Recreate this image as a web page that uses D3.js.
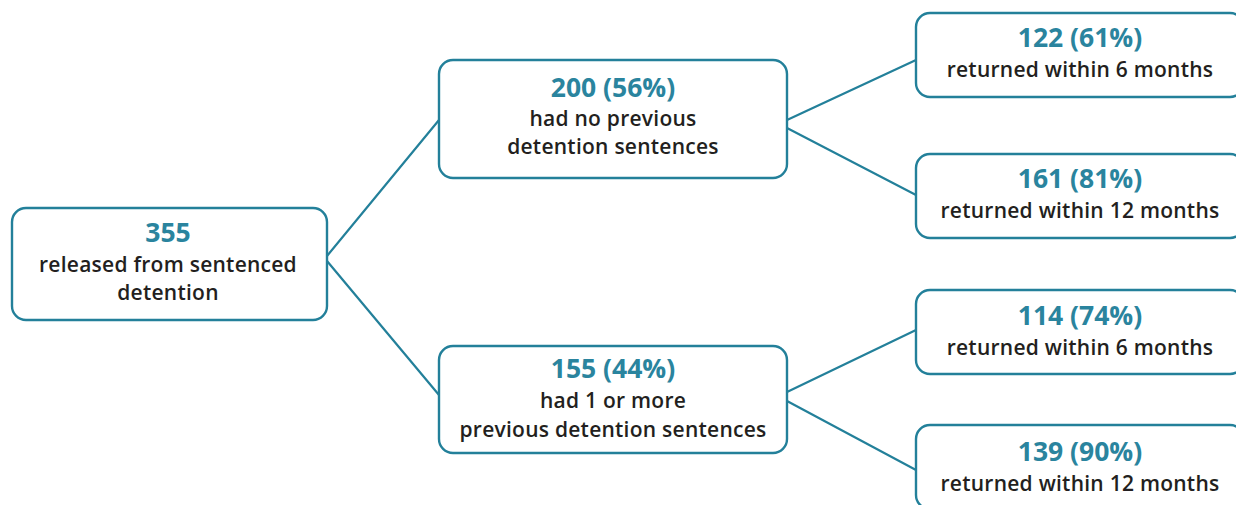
<!DOCTYPE html>
<html>
<head>
<meta charset="utf-8">
<script src="https://cdn.jsdelivr.net/npm/d3@7"></script>
<style>
  html, body { margin: 0; padding: 0; background: #ffffff; }
  svg { display: block; }
</style>
</head>
<body>
<svg id="chart" width="1236" height="505"></svg>
<script>
// ---- Data ----
const nodeIds    = ["root", "none", "prev", "none6", "none12", "prev6", "prev12"];
const parents    = [null, "root", "root", "none", "none", "prev", "prev"];
const counts     = [355, 200, 155, 122, 161, 114, 139];
const percents   = [null, 56, 44, 61, 81, 74, 90];
const labelLines = [
  ["released from sentenced", "detention"],
  ["had no previous", "detention sentences"],
  ["had 1 or more", "previous detention sentences"],
  ["returned within 6 months"],
  ["returned within 12 months"],
  ["returned within 6 months"],
  ["returned within 12 months"]
];

// ---- Layout (pixel geometry, separate from data) ----
const boxes = {
  root:   {x: 12,  y: 208, w: 315, h: 112},
  none:   {x: 439, y: 60,  w: 348, h: 118},
  prev:   {x: 439, y: 346, w: 348, h: 107},
  none6:  {x: 916, y: 13,  w: 328, h: 84},
  none12: {x: 916, y: 154, w: 328, h: 84},
  prev6:  {x: 916, y: 290, w: 328, h: 84},
  prev12: {x: 916, y: 425, w: 328, h: 84}
};
const linkAnchors = {
  none:   {src: 48,  dst: 60},
  prev:   {src: 53,  dst: 49},
  none6:  {src: 60,  dst: 47},
  none12: {src: 68,  dst: 41},
  prev6:  {src: 46,  dst: 40},
  prev12: {src: 55,  dst: 45}
};
const textOffsets = {
  root:   {num: 34, lines: [64, 92]},
  none:   {num: 37, lines: [66, 94]},
  prev:   {num: 32, lines: [62, 91]},
  none6:  {num: 34, lines: [64]},
  none12: {num: 34, lines: [64]},
  prev6:  {num: 35, lines: [65]},
  prev12: {num: 36, lines: [66]}
};

const teal = "#23809a";
const numColor = "#2a849e";
const textColor = "#231f20";

const nodes = nodeIds.map((id, i) => ({
  id, parent: parents[i], count: counts[i], pct: percents[i], lines: labelLines[i]
}));

const root = d3.stratify().id(d => d.id).parentId(d => d.parent)(nodes);

const svg = d3.select("#chart");

svg.append("g")
  .selectAll("line")
  .data(root.links())
  .join("line")
  .attr("x1", d => boxes[d.source.id].x + boxes[d.source.id].w)
  .attr("y1", d => boxes[d.source.id].y + linkAnchors[d.target.id].src)
  .attr("x2", d => boxes[d.target.id].x)
  .attr("y2", d => boxes[d.target.id].y + linkAnchors[d.target.id].dst)
  .attr("stroke", teal)
  .attr("stroke-width", 2.2)
  .attr("stroke-linecap", "round");

const g = svg.append("g")
  .selectAll("g")
  .data(root.descendants())
  .join("g");

g.append("rect")
  .attr("x", d => boxes[d.id].x)
  .attr("y", d => boxes[d.id].y)
  .attr("width", d => boxes[d.id].w)
  .attr("height", d => boxes[d.id].h)
  .attr("rx", 14)
  .attr("ry", 14)
  .attr("fill", "#ffffff")
  .attr("stroke", teal)
  .attr("stroke-width", 2.4);

const cx = d => d.depth === 0 ? boxes[d.id].x + 156
              : d.depth === 2 ? boxes[d.id].x + 164
              : boxes[d.id].x + boxes[d.id].w / 2;

g.append("text")
  .attr("x", cx)
  .attr("y", d => boxes[d.id].y + textOffsets[d.id].num)
  .attr("text-anchor", "middle")
  .attr("font-family", "'Open Sans', sans-serif")
  .attr("font-weight", 700)
  .attr("font-size", 26.5)
  .attr("fill", numColor)
  .text(d => d.data.pct == null ? d3.format("d")(d.data.count)
                                 : `${d.data.count} (${d.data.pct}%)`);

g.each(function(d) {
  const sel = d3.select(this);
  d.data.lines.forEach((line, i) => {
    sel.append("text")
      .attr("x", cx(d))
      .attr("y", boxes[d.id].y + textOffsets[d.id].lines[i])
      .attr("text-anchor", "middle")
      .attr("font-family", "'Open Sans', sans-serif")
      .attr("font-weight", 600)
      .attr("font-size", 21)
      .attr("letter-spacing", 0.25)
      .attr("fill", textColor)
      .text(line);
  });
});
</script>
</body>
</html>
